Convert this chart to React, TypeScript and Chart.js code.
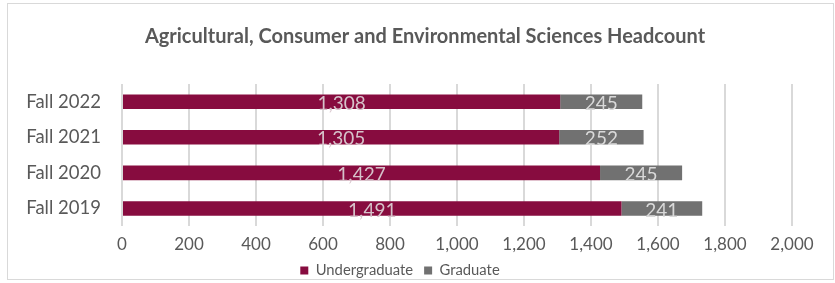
import React, { useEffect, useRef } from "react";
import { Chart, registerables } from "chart.js";

Chart.register(...registerables);

const categories = ["Fall 2022", "Fall 2021", "Fall 2020", "Fall 2019"];
const undergraduate = [1308, 1305, 1427, 1491];
const graduate = [245, 252, 245, 241];
const seriesNames = ["Undergraduate", "Graduate"];
const chartTitle = "Agricultural, Consumer and Environmental Sciences Headcount";

const FONT = "Lato, 'Open Sans', sans-serif";

const labelPlugin = {
  id: "barLabels",
  afterLayout(chart: any) {
    // centre the title over the whole frame rather than the padded box
    if (chart.titleBlock) chart.titleBlock.right += 50;
  },
  afterDatasetsDraw(chart: any) {
    const ctx = chart.ctx;
    ctx.save();
    ctx.font = `19px ${FONT}`;
    ctx.textAlign = "center";
    ctx.textBaseline = "middle";
    chart.data.datasets.forEach((ds: any, di: number) => {
      const meta = chart.getDatasetMeta(di);
      meta.data.forEach((bar: any, i: number) => {
        const v = ds.data[i];
        const x = (bar.x + bar.base) / 2;
        ctx.fillStyle = di === 0 ? "#d6c2ca" : "#d9d9d9";
        ctx.fillText(v.toLocaleString("en-US"), x, bar.y + 2);
      });
    });
    ctx.restore();
  },
};

export default function App() {
  const ref = useRef<HTMLCanvasElement>(null);
  useEffect(() => {
    if (!ref.current) return;
    const chart = new Chart(ref.current, {
      type: "bar",
      data: {
        labels: categories,
        datasets: [
          {
            label: seriesNames[0],
            data: undergraduate,
            backgroundColor: "#870c3f",
            barPercentage: 0.41,
            categoryPercentage: 1,
          },
          {
            label: seriesNames[1],
            data: graduate,
            backgroundColor: "#717171",
            barPercentage: 0.41,
            categoryPercentage: 1,
          },
        ],
      },
      options: {
        indexAxis: "y",
        animation: false,
        responsive: false,
        maintainAspectRatio: false,
        layout: { padding: { left: 0, right: 41, top: 0, bottom: -9 } },
        scales: {
          x: {
            stacked: true,
            min: 0,
            max: 2000,
            ticks: {
              stepSize: 200,
              color: "#595959",
              font: { family: FONT, size: 17 },
              padding: 8,
              callback: (v: any) => Number(v).toLocaleString("en-US"),
            },
            grid: { color: "#d9d9d9", lineWidth: 2, drawTicks: false },
            border: { display: false },
            afterFit: (scale: any) => {
              scale.height = 26;
            },
          },
          y: {
            stacked: true,
            ticks: {
              color: "#595959",
              font: { family: FONT, size: 18.5 },
              padding: 21,
            },
            grid: { display: false, drawTicks: false },
            border: { display: false },
            afterFit: (scale: any) => {
              scale.width = 114;
            },
          },
        },
        plugins: {
          title: {
            display: true,
            text: chartTitle,
            color: "#595959",
            font: { family: FONT, size: 20, weight: "bold" },
            padding: { top: 21, bottom: 35 },
          },
          legend: {
            position: "bottom",
            labels: {
              color: "#595959",
              font: { family: FONT, size: 14.8 },
              boxWidth: 8,
              boxHeight: 8,
              padding: 11,
            },
          },
          tooltip: { enabled: false },
        },
      },
      plugins: [labelPlugin],
    });
    return () => chart.destroy();
  }, []);
  return (
    <div
      style={{
        position: "absolute",
        left: 7,
        top: 3,
        width: 827,
        height: 277,
        border: "1px solid #d9d9d9",
        boxSizing: "border-box",
        background: "#fff",
      }}
    >
      <canvas ref={ref} width={825} height={275} style={{ display: "block" }} />
    </div>
  );
}
